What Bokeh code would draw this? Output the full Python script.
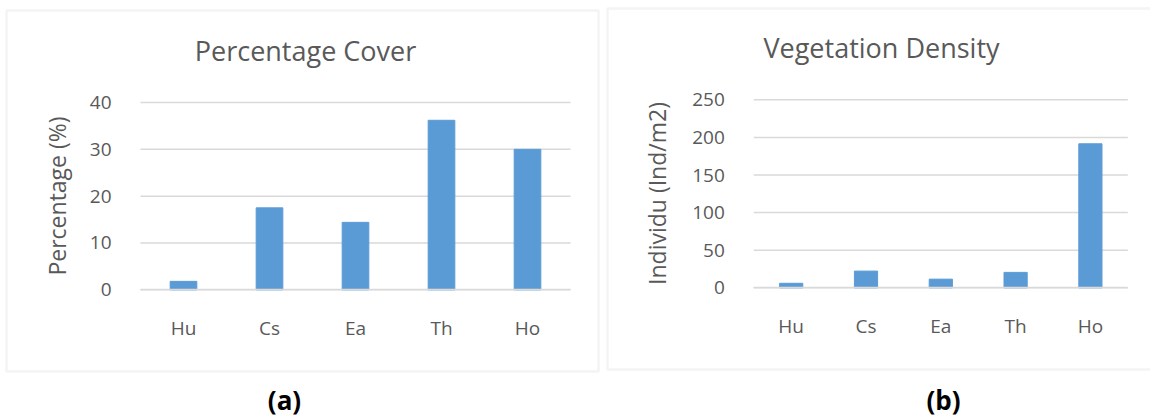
from bokeh.plotting import figure
from bokeh.layouts import row
from bokeh.models import Range1d, FixedTicker, BoxAnnotation, Label
from bokeh.embed import file_html
from bokeh.resources import INLINE

# Species codes shared by both panels
species = ["Hu", "Cs", "Ea", "Th", "Ho"]

# Panel (a): percentage cover per species
cover_pct = [1.8, 17.5, 14.4, 36.2, 30.0]
cover_ticks = [0, 10, 20, 30, 40]

# Panel (b): vegetation density (individuals per m2)
density = [6.0, 22.2, 11.5, 20.5, 191.5]
density_ticks = [0, 50, 100, 150, 200, 250]

FONT = "Open Sans"
TEXT = "#595959"
GRID = "#D9D9D9"
BAR = "#5B9BD5"
H = 418


def make_panel(title, ylabel, values, ticks, width, area, title_pos,
               label_standoff, box, tag, tag_pos):
    # area = (left, top, right, bottom) pixel extent of the plotting area inside
    # a figure whose frame fills the whole canvas; ranges are set so that the
    # category slots and the tick span land exactly on that area.
    al, at, ar, ab = area
    n = len(species)
    xs = [i + 1 for i in range(n)]
    ppx = (ar - al) / n
    x0, x1 = 0.5, n + 0.5
    ppy = (ab - at) / (ticks[-1] - ticks[0])
    x_range = Range1d(x0 - al / ppx, x1 + (width - ar) / ppx)
    y_range = Range1d(ticks[0] - (H - ab) / ppy, ticks[-1] + at / ppy)

    p = figure(x_range=x_range, y_range=y_range, width=width, height=H,
               output_backend="svg", toolbar_location=None, min_border=0,
               background_fill_color="white", border_fill_color="white")
    p.outline_line_color = None
    p.grid.visible = False

    # horizontal gridlines across the plotting area only
    p.segment(x0=[x0] * len(ticks), x1=[x1] * len(ticks), y0=ticks, y1=ticks,
              line_color=GRID, line_width=1.5)
    p.vbar(x=xs, top=values, width=0.31, fill_color=BAR, line_color=BAR)

    # value axis pinned to the left edge of the plotting area
    ya = p.yaxis[0]
    ya.fixed_location = x0
    ya.ticker = FixedTicker(ticks=ticks)
    ya.bounds = (ticks[0], ticks[-1])
    ya.axis_line_color = None
    ya.major_tick_line_color = None
    ya.minor_tick_line_color = None
    ya.major_label_standoff = 23
    ya.axis_label = ylabel
    ya.axis_label_standoff = label_standoff
    ya.axis_label_text_font = FONT
    ya.axis_label_text_font_size = "23px"
    ya.axis_label_text_font_style = "normal"
    ya.axis_label_text_color = TEXT

    # category axis pinned to zero
    xa = p.xaxis[0]
    xa.fixed_location = ticks[0]
    xa.ticker = FixedTicker(ticks=xs)
    xa.major_label_overrides = {x: s for x, s in zip(xs, species)}
    xa.bounds = (x0, x1)
    xa.axis_line_color = GRID
    xa.axis_line_width = 1.5
    xa.major_tick_line_color = None
    xa.minor_tick_line_color = None
    xa.major_label_standoff = 19

    for ax in (xa, ya):
        ax.major_label_text_font = FONT
        ax.major_label_text_font_size = "19px"
        ax.major_label_text_color = TEXT

    # screen units run from the frame's bottom-left corner, y upwards
    bl, bt, br, bb = box
    p.add_layout(BoxAnnotation(left=bl, right=br, top=H - bt, bottom=H - bb,
                               left_units="screen", right_units="screen",
                               top_units="screen", bottom_units="screen",
                               fill_color=None, fill_alpha=0,
                               line_color=GRID, line_width=2.5))

    tx, ty = title_pos
    p.add_layout(Label(x=tx, y=H - ty, x_units="screen", y_units="screen",
                       text=title, text_align="center", text_baseline="middle",
                       text_font=FONT, text_font_size="27px",
                       text_color=TEXT))

    gx, gy = tag_pos
    p.add_layout(Label(x=gx, y=H - gy, x_units="screen", y_units="screen",
                       text=tag, text_align="center", text_baseline="middle",
                       text_font=FONT, text_font_size="26px",
                       text_font_style="bold", text_color="black"))
    return p


left = make_panel("Percentage Cover", "Percentage (%)", cover_pct, cover_ticks,
                  width=604, area=(140, 102, 570, 289.3), title_pos=(305, 50),
                  label_standoff=14, box=(6, 10, 598, 371),
                  tag="(a)", tag_pos=(284, 399))

right = make_panel("Vegetation Density", "Individu (Ind/m2)", density, density_ticks,
                   width=546, area=(149.3, 99.3, 523.3, 287.3), title_pos=(277, 47),
                   label_standoff=16, box=(3, 8, 555, 369),
                   tag="(b)", tag_pos=(339, 399))

layout = row(left, right, spacing=0)

with open("out.html", "w") as f:
    f.write(file_html(layout, INLINE))
